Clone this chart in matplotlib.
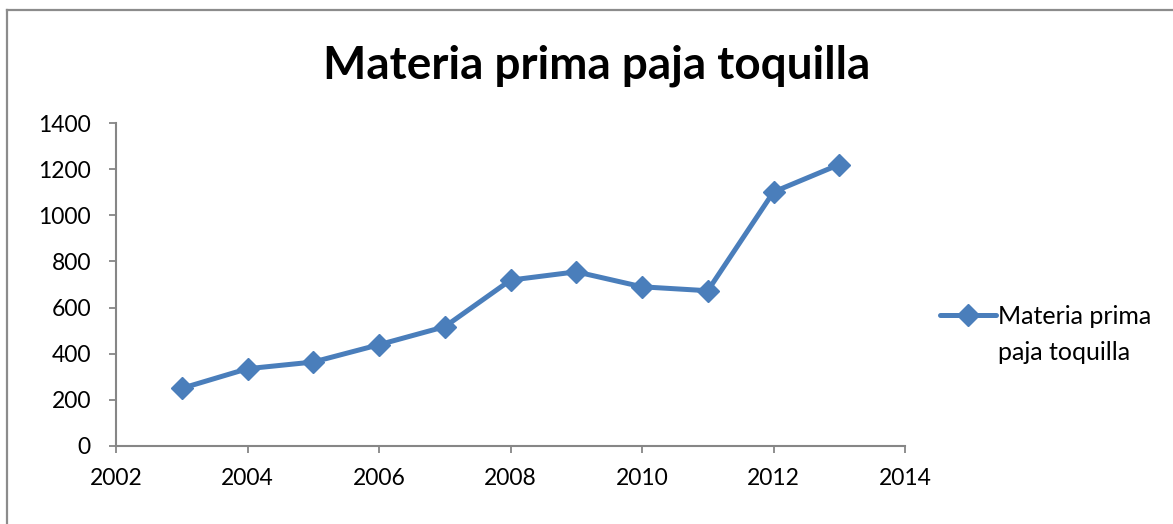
import matplotlib
matplotlib.use("Agg")
import matplotlib.pyplot as plt
from matplotlib.lines import Line2D

# Data
years = [2003, 2004, 2005, 2006, 2007, 2008, 2009, 2010, 2011, 2012, 2013]
values = [250, 335, 364, 439, 517, 719, 755, 690, 673, 1101, 1220]
series_label = ["Materia prima", "paja toquilla"]
title = "Materia prima paja toquilla"
x_ticks = [2002, 2004, 2006, 2008, 2010, 2012, 2014]
y_ticks = [0, 200, 400, 600, 800, 1000, 1200, 1400]

plt.rcParams['font.family'] = ['Lato', 'DejaVu Sans']

W, H = 1173, 524
fig = plt.figure(figsize=(W / 100, H / 100), dpi=100)
ax = fig.add_axes([116 / W, 1 - 446 / H, (905 - 116) / W, (446 - 123) / H])

line_color = '#4A7EBB'
axis_color = '#868686'

ax.plot(years, values, color=line_color, linewidth=3.6, marker='D',
        markersize=11.5, markeredgecolor=line_color, label=series_label[0],
        solid_capstyle='round')

ax.set_xlim(2002, 2014)
ax.set_ylim(0, 1400)
ax.set_xticks(x_ticks)
ax.set_yticks(y_ticks)

for s in ['top', 'right']:
    ax.spines[s].set_visible(False)
for s in ['left', 'bottom']:
    ax.spines[s].set_color(axis_color)
    ax.spines[s].set_linewidth(1.5)

ax.tick_params(axis='both', direction='out', length=5, width=1.3,
               color=axis_color, labelsize=16.5, labelcolor='black')
ax.tick_params(axis='y', pad=13)
ax.tick_params(axis='x', pad=11)

fig.text(597 / W, 1 - 66 / H, title, ha='center', va='center',
         fontsize=33, fontweight='bold')

# legend: handle lines up with the first line of the label
leg = fig.legend(loc='center left', bbox_to_anchor=(940 / W, 1 - 316 / H),
                 frameon=False, fontsize=18, handlelength=2.25,
                 handletextpad=0.08, borderpad=0, borderaxespad=0)
fig.canvas.draw()
bb = leg.get_texts()[0].get_window_extent(fig.canvas.get_renderer())
fig.text(bb.x0 / W, (bb.y0 + bb.y1) / 2 / H - 36 / H, series_label[1],
         ha='left', va='center', fontsize=18)

# chart border (left and top edges visible)
fig.add_artist(Line2D([7 / W, 7 / W], [0, 1 - 10 / H], transform=fig.transFigure,
                      color='#8c8c8c', linewidth=1.6))
fig.add_artist(Line2D([7 / W, 1], [1 - 10 / H, 1 - 10 / H], transform=fig.transFigure,
                      color='#8c8c8c', linewidth=1.6))

fig.savefig("out.png", dpi=100)
